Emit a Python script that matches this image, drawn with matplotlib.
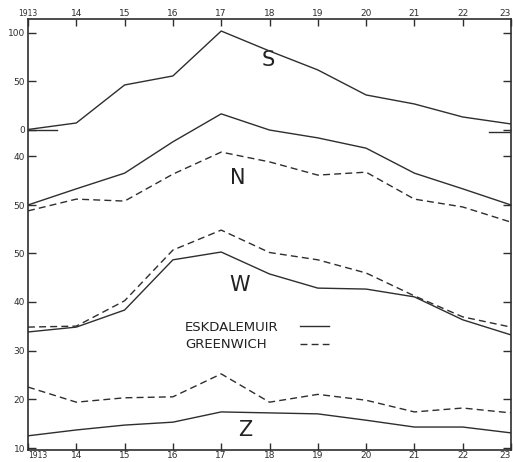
"""Secular variation curves, Eskdalemuir vs Greenwich, 1913-1923."""

import matplotlib

matplotlib.use("Agg")
import matplotlib.pyplot as plt  # noqa: E402
from matplotlib.lines import Line2D  # noqa: E402

YEARS = [1913, 1914, 1915, 1916, 1917, 1918, 1919, 1920, 1921, 1922, 1923]
YEAR_LABELS = ["1913", "14", "15", "16", "17", "18", "19", "20", "21", "22", "23"]

# S component (upper scale)
S_ESK = [0.5, 7.2, 46.4, 55.7, 102.0, 81.4, 61.9, 36.1, 26.8, 13.4, 6.2]

# N component (inverted scale)
N_ESK = [50.0, 46.7, 43.5, 37.1, 31.4, 34.7, 36.3, 38.4, 43.5, 46.7, 50.0]
N_GRE = [51.2, 48.8, 49.2, 43.7, 39.2, 41.2, 43.9, 43.3, 48.8, 50.4, 53.5]

# W and Z components (shared lower scale)
W_ESK = [33.8, 34.8, 38.3, 48.6, 50.2, 45.7, 42.8, 42.6, 41.0, 36.3, 33.2]
W_GRE = [34.8, 35.0, 40.2, 50.6, 54.7, 50.1, 48.6, 45.9, 41.2, 36.9, 34.8]
Z_ESK = [12.5, 13.7, 14.7, 15.3, 17.4, 17.2, 17.0, 15.7, 14.3, 14.3, 13.1]
Z_GRE = [22.5, 19.4, 20.3, 20.5, 25.2, 19.4, 21.0, 19.8, 17.4, 18.2, 17.2]

S_TICKS = [100, 50, 0]
N_TICKS = [40, 50]
WZ_TICKS = [50, 40, 30, 20, 10]

LEGEND_NAMES = ["ESKDALEMUIR", "GREENWICH"]

INK = "#2e2e2e"
SOLID = dict(color=INK, lw=1.0, ls="-")
DASHED = dict(color=INK, lw=1.0, ls=(0, (5, 3)))

plt.rcParams["font.family"] = "DejaVu Sans"

fig = plt.figure(figsize=(5.13, 4.62), dpi=100)
rect = [28 / 513, 1 - 450 / 462, 483 / 513, 431 / 462]

base = fig.add_axes(rect)
base.set_xlim(1913, 1923)
base.set_ylim(0, 1)
base.set_yticks([])
base.set_xticks(YEARS)
base.set_xticklabels(YEAR_LABELS)
base.tick_params(axis="x", direction="in", length=5, width=1, color=INK,
                 top=True, labeltop=True, labelsize=6.5, labelcolor=INK, pad=1)
# squeeze the corner labels so they stay inside the picture
ticks = base.xaxis.get_major_ticks()
ticks[0].label1.set_fontsize(5.5)
ticks[0].label1.set_horizontalalignment("left")
ticks[0].label2.set_fontsize(5.5)
ticks[-1].label1.set_horizontalalignment("right")
ticks[-1].label2.set_horizontalalignment("right")
for sp in base.spines.values():
    sp.set_color(INK)
    sp.set_linewidth(1.2)


def overlay(ylim, ticks):
    """Transparent axes over the same frame, each with its own y scale."""
    ax = fig.add_axes(rect, sharex=base, frameon=False)
    ax.patch.set_alpha(0)
    ax.set_ylim(*ylim)
    ax.set_yticks(ticks)
    ax.tick_params(axis="y", direction="in", length=6, width=1, color=INK,
                   left=True, right=True, labelsize=6.5, labelcolor=INK, pad=2)
    ax.tick_params(axis="x", bottom=False, labelbottom=False)
    return ax


ax_s = overlay((-329.9, 114.4), S_TICKS)
ax_n = overlay((100.0, 12.04), N_TICKS)  # N runs downwards
ax_wz = overlay((9.59, 98.0), WZ_TICKS)

ax_s.plot(YEARS, S_ESK, **SOLID)
ax_s.axhline(0, xmin=0, xmax=0.06, **SOLID)
ax_s.axhline(-2, xmin=0.955, xmax=1, **SOLID)

ax_n.plot(YEARS, N_ESK, **SOLID)
ax_n.plot(YEARS, N_GRE, **DASHED)

ax_wz.plot(YEARS, W_ESK, **SOLID)
ax_wz.plot(YEARS, W_GRE, **DASHED)
ax_wz.plot(YEARS, Z_ESK, **SOLID)
ax_wz.plot(YEARS, Z_GRE, **DASHED)

for letter, x, y in [("S", 0.497, 0.905), ("N", 0.435, 0.631),
                     ("W", 0.439, 0.383), ("Z", 0.449, 0.046)]:
    base.text(x, y, letter, transform=base.transAxes, ha="center", va="center",
              fontsize=15, color="#222222")

# legend: names left-aligned, sample lines stacked to their right
for name, y in zip(LEGEND_NAMES, [0.285, 0.244]):
    base.text(0.325, y, name, transform=base.transAxes, ha="left", va="center",
              fontsize=9.5, color="#222222")
handles = [Line2D([], [], **SOLID), Line2D([], [], **DASHED)]
base.legend(handles, [" ", " "], loc="center left", bbox_to_anchor=(0.55, 0.266),
            frameon=False, borderpad=0, fontsize=8.5, handlelength=2.5,
            handletextpad=0, labelspacing=0.45)

fig.savefig("out.png", dpi=100, facecolor="white")
